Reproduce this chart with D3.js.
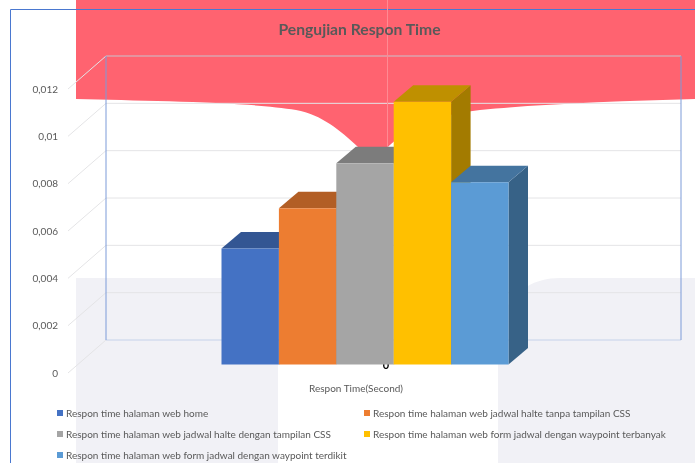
<!DOCTYPE html>
<html>
<head>
<meta charset="utf-8">
<script src="https://cdn.jsdelivr.net/npm/d3@7"></script>
<style>
	html, body { margin: 0; padding: 0; background: #fff; }
	svg { display: block; filter: blur(0.35px); }
	text { font-family: Lato, "Open Sans", sans-serif; fill: #595959; }
</style>
</head>
<body>
<div id="graphic"></div>
<script>
const chartTitle = 'Pengujian Respon Time';
const xAxisLabel = 'Respon Time(Second)';

const seriesNames = [
	'Respon time halaman web home',
	'Respon time halaman web jadwal halte tanpa tampilan CSS',
	'Respon time halaman web jadwal halte dengan tampilan CSS',
	'Respon time halaman web form jadwal dengan waypoint terbanyak',
	'Respon time halaman web form jadwal dengan waypoint terdikit'
];
const seriesValues = [0.0049, 0.0066, 0.0085, 0.0111, 0.0077];
const yTicks = [0, 0.002, 0.004, 0.006, 0.008, 0.01, 0.012];
const yTickLabels = ['0', '0,002', '0,004', '0,006', '0,008', '0,01', '0,012'];

const frontColours = ['#4472c4', '#ed7d31', '#a5a5a5', '#ffc000', '#5b9bd5'];
const topColours = ['#335693', '#b25e25', '#7c7c7c', '#bf9000', '#44749f'];
const sideColours = ['#2a4779', '#8f4b1d', '#636363', '#a37b00', '#376287'];

const width = 695;
const height = 463;

const svg = d3.select('#graphic').append('svg')
	.attr('width', width)
	.attr('height', height);

// background picture behind the chart
const bg = svg.append('g');
bg.append('path')
	.attr('d', 'M76,0H695V99C620,101 540,104 480,110C440,115 410,124 385,150L358,147C340,130 322,115 296,110C250,102 150,101 76,99Z')
	.attr('fill', '#ff6370');
bg.append('path')
	.attr('d', 'M76,278H278V463H76Z')
	.attr('fill', '#f1f1f6');
bg.append('path')
	.attr('d', 'M498,463V330C505,300 525,278 560,278H695V463Z')
	.attr('fill', '#f1f1f6');

// back wall
const wall = { left: 106, right: 681, top: 56, bottom: 340 };
const depth = { x: 38, y: 33 };
const barDepth = { x: 19.5, y: 16.5 };

const yWall = d3.scaleLinear().domain([0, 0.012]).range([wall.bottom, wall.top]);
const barBase = 364.5;
const yBar = d3.scaleLinear().domain([0, 0.012]).range([barBase, barBase - (wall.bottom - wall.top)]);
const x = d3.scaleBand().domain(seriesNames).range([221.5, 508.5]).padding(0);

const grid = svg.append('g');
yTicks.forEach((t) => {
	const colour = t === 0.012 ? '#c9c4cc' : '#e4e4e6';
	grid.append('line')
		.attr('x1', wall.left).attr('x2', wall.right)
		.attr('y1', yWall(t)).attr('y2', yWall(t))
		.attr('stroke', t === 0 ? '#c5d2ea' : colour)
		.attr('stroke-width', 1);
	grid.append('line')
		.attr('x1', wall.left - depth.x).attr('x2', wall.left)
		.attr('y1', yWall(t) + depth.y).attr('y2', yWall(t))
		.attr('stroke', '#e4e4e6')
		.attr('stroke-width', 1);
});

// wall edges
svg.append('path')
	.attr('d', `M${wall.left},${wall.top}V${wall.bottom}M${wall.right},${wall.top}V${wall.bottom}`)
	.attr('fill', 'none')
	.attr('stroke', '#7d9bd8')
	.attr('stroke-width', 1);

// outer frame
svg.append('path')
	.attr('d', `M10.5,${height}V9.5H${width}`)
	.attr('fill', 'none')
	.attr('stroke', '#4a78d0')
	.attr('stroke-width', 1);

// faint vertical line on the picture
svg.append('line')
	.attr('x1', 387.5).attr('x2', 387.5)
	.attr('y1', 0).attr('y2', 150)
	.attr('stroke', '#ff8a93')
	.attr('stroke-width', 1);

// y labels
svg.append('g').selectAll('text')
	.data(yTicks)
	.join('text')
	.attr('x', 58)
	.attr('y', (d) => yWall(d) + depth.y)
	.attr('dy', '0.35em')
	.attr('text-anchor', 'end')
	.attr('font-size', 10)
	.text((d, i) => yTickLabels[i]);

// stray black 0, only its lower part shows below the bars
svg.append('text')
	.attr('x', 386)
	.attr('y', 369)
	.attr('text-anchor', 'middle')
	.attr('font-size', 11)
	.attr('font-weight', 700)
	.style('fill', '#000')
	.text('0');

// bars, drawn left to right so each front covers the neighbour's side
const bars = svg.append('g').selectAll('g')
	.data(seriesNames)
	.join('g');

bars.each(function (name, i) {
	const g = d3.select(this);
	const v = seriesValues[i];
	const x0 = x(name);
	const x1 = x0 + x.bandwidth();
	const yTop = yBar(v);

	g.append('path')
		.attr('d', `M${x1},${yTop}L${x1 + barDepth.x},${yTop - barDepth.y}V${barBase - barDepth.y}L${x1},${barBase}Z`)
		.attr('fill', sideColours[i]);
	g.append('path')
		.attr('d', `M${x0},${yTop}L${x0 + barDepth.x},${yTop - barDepth.y}H${x1 + barDepth.x}L${x1},${yTop}Z`)
		.attr('fill', topColours[i]);
	g.append('rect')
		.attr('x', x0)
		.attr('y', yTop)
		.attr('width', x.bandwidth())
		.attr('height', barBase - yTop)
		.attr('fill', frontColours[i]);
});

// title and axis label
svg.append('text')
	.attr('x', 359.5)
	.attr('y', 35)
	.attr('text-anchor', 'middle')
	.attr('font-size', 15.7)
	.attr('font-weight', 700)
	.text(chartTitle);

svg.append('text')
	.attr('x', 356)
	.attr('y', 392)
	.attr('text-anchor', 'middle')
	.attr('font-size', 10)
	.text(xAxisLabel);

// legend
const legendPos = [
	{ x: 57, y: 413 },
	{ x: 364, y: 413 },
	{ x: 57, y: 434 },
	{ x: 364, y: 434 },
	{ x: 57, y: 455 }
];

const legenditem = svg.append('g').selectAll('g')
	.data(seriesNames)
	.join('g')
	.attr('transform', (d, i) => `translate(${legendPos[i].x},${legendPos[i].y})`);

legenditem.append('rect')
	.attr('x', 0)
	.attr('y', -3)
	.attr('width', 6)
	.attr('height', 6)
	.attr('fill', (d, i) => frontColours[i]);

legenditem.append('text')
	.attr('x', 9)
	.attr('dy', '0.35em')
	.attr('font-size', 10)
	.text((d) => d);
</script>
</body>
</html>
